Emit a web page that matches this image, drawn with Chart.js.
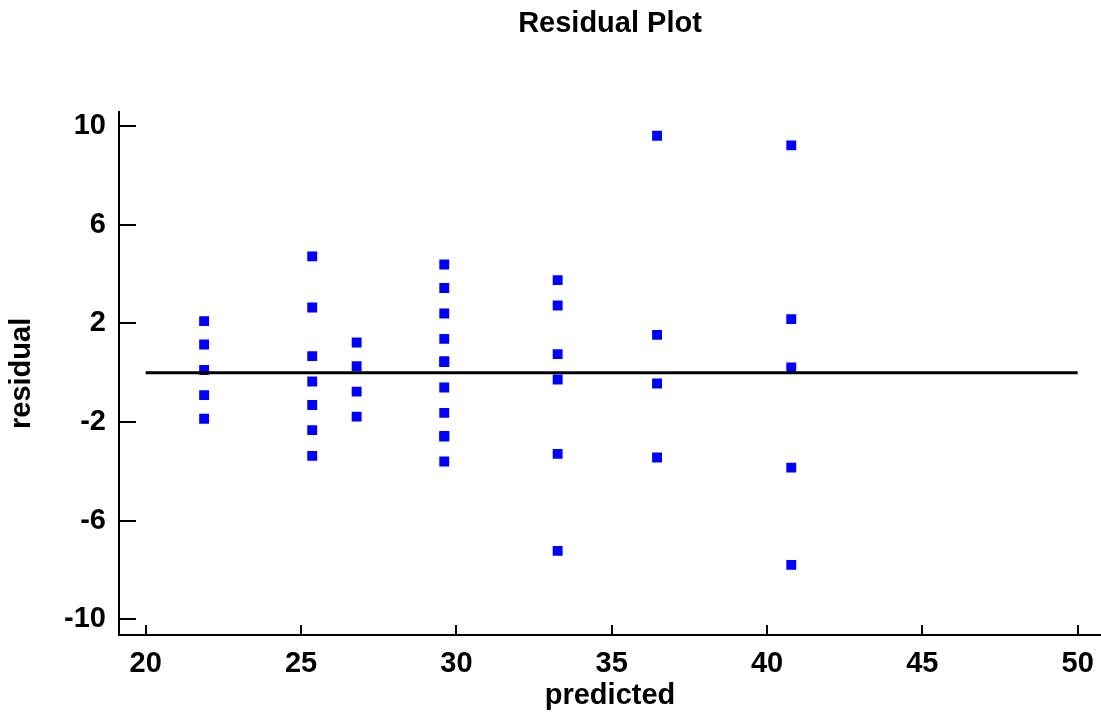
<!DOCTYPE html>
<html>
<head>
<meta charset="utf-8">
<script src="https://cdn.jsdelivr.net/npm/chart.js@4"></script>
<style>
  html, body { margin: 0; padding: 0; background: #fff; }
  #wrap { width: 1101px; height: 713px; }
</style>
</head>
<body>
<div id="wrap"><canvas id="c" width="1101" height="713"></canvas></div>
<script>
const chartTitle = "Residual Plot";
const xTitle = "predicted";
const yTitle = "residual";

const predicted = [
  21.88, 21.88, 21.88, 21.88, 21.88,
  25.36, 25.36, 25.36, 25.36, 25.36, 25.36, 25.36,
  26.79, 26.79, 26.79, 26.79,
  29.61, 29.61, 29.61, 29.61, 29.61, 29.61, 29.61, 29.61, 29.61, 29.61, 29.61,
  33.26, 33.26, 33.26, 33.26, 33.26, 33.26,
  36.46, 36.46, 36.46, 36.46,
  40.78, 40.78, 40.78, 40.78, 40.78
];
const residual = [
  2.09, 1.14, 0.11, -0.91, -1.87,
  4.71, 2.64, 0.67, -0.36, -1.31, -2.33, -3.37,
  1.22, 0.26, -0.77, -1.78,
  4.38, 3.43, 2.40, 1.37, 0.43, 0.46, -0.60, -1.63, -2.59, -2.56, -3.60,
  3.75, 2.72, 0.75, -0.28, -3.29, -7.22,
  9.60, 1.53, -0.44, -3.44,
  9.21, 2.17, 0.21, -3.85, -7.79
];
const zeroLineX = [20, 50];
const zeroLineY = [0, 0];
const xTicks = [20, 25, 30, 35, 40, 45, 50];
const yTicks = [-10, -6, -2, 2, 6, 10];

const points = predicted.map((p, i) => ({ x: p, y: residual[i] }));
const zeroLine = zeroLineX.map((x, i) => ({ x: x, y: zeroLineY[i] }));

const FONT = "'Liberation Sans', Arial, sans-serif";
const FS = 29;

const innerTicks = {
  id: 'innerTicks',
  afterDatasetsDraw(chart) {
    const ctx = chart.ctx;
    const xs = chart.scales.x, ys = chart.scales.y;
    const area = chart.chartArea;
    ctx.save();
    ctx.strokeStyle = '#000';
    ctx.lineWidth = 2;
    ctx.beginPath();
    xTicks.forEach(v => {
      const px = Math.round(xs.getPixelForValue(v));
      ctx.moveTo(px, area.bottom);
      ctx.lineTo(px, area.bottom - 10);
    });
    yTicks.forEach(v => {
      const py = Math.round(ys.getPixelForValue(v));
      ctx.moveTo(area.left, py);
      ctx.lineTo(area.left + 17, py);
    });
    ctx.stroke();
    ctx.restore();
  }
};

new Chart(document.getElementById('c'), {
  type: 'scatter',
  data: {
    datasets: [
      {
        type: 'line',
        data: zeroLine,
        borderColor: '#000',
        borderWidth: 3,
        pointRadius: 0,
        fill: false,
        order: 0
      },
      {
        data: points,
        pointStyle: 'rect',
        pointRadius: 7,
        pointBorderWidth: 0,
        backgroundColor: '#0000ff',
        borderColor: '#0000ff',
        order: 1
      }
    ]
  },
  options: {
    responsive: false,
    animation: false,
    layout: { padding: 0, autoPadding: false },
    plugins: {
      legend: { display: false },
      tooltip: { enabled: false },
      title: {
        display: true,
        fullSize: false,
        text: chartTitle,
        color: '#000',
        font: { family: FONT, size: FS, weight: 'bold' },
        padding: { top: 7, bottom: 70 }
      }
    },
    scales: {
      x: {
        type: 'linear',
        min: 19.14,
        max: 50.75,
        afterBuildTicks: s => { s.ticks = xTicks.map(v => ({ value: v })); },
        afterFit: s => { s.height = 78; },
        grid: {
          display: true,
          drawOnChartArea: false,
          drawTicks: true,
          tickLength: 12,
          color: 'rgba(0,0,0,0)',
          tickColor: 'rgba(0,0,0,0)'
        },
        border: { display: true, color: '#000', width: 2 },
        ticks: {
          color: '#000',
          padding: 0,
          maxRotation: 0,
          font: { family: FONT, size: FS, weight: 'bold' }
        },
        title: {
          display: true,
          text: xTitle,
          color: '#000',
          padding: 0,
          font: { family: FONT, size: FS, weight: 'bold' }
        }
      },
      y: {
        type: 'linear',
        min: -10.63,
        max: 10.57,
        afterBuildTicks: s => { s.ticks = yTicks.map(v => ({ value: v })); },
        afterFit: s => { s.width = 119; },
        grid: {
          display: true,
          drawOnChartArea: false,
          drawTicks: true,
          tickLength: 13,
          color: 'rgba(0,0,0,0)',
          tickColor: 'rgba(0,0,0,0)'
        },
        border: { display: true, color: '#000', width: 2 },
        ticks: {
          color: '#000',
          padding: 0,
          font: { family: FONT, size: FS, weight: 'bold' }
        },
        title: {
          display: true,
          text: yTitle,
          color: '#000',
          padding: { top: 5, bottom: 0 },
          font: { family: FONT, size: FS, weight: 'bold' }
        }
      }
    }
  },
  plugins: [innerTicks]
});
</script>
</body>
</html>
